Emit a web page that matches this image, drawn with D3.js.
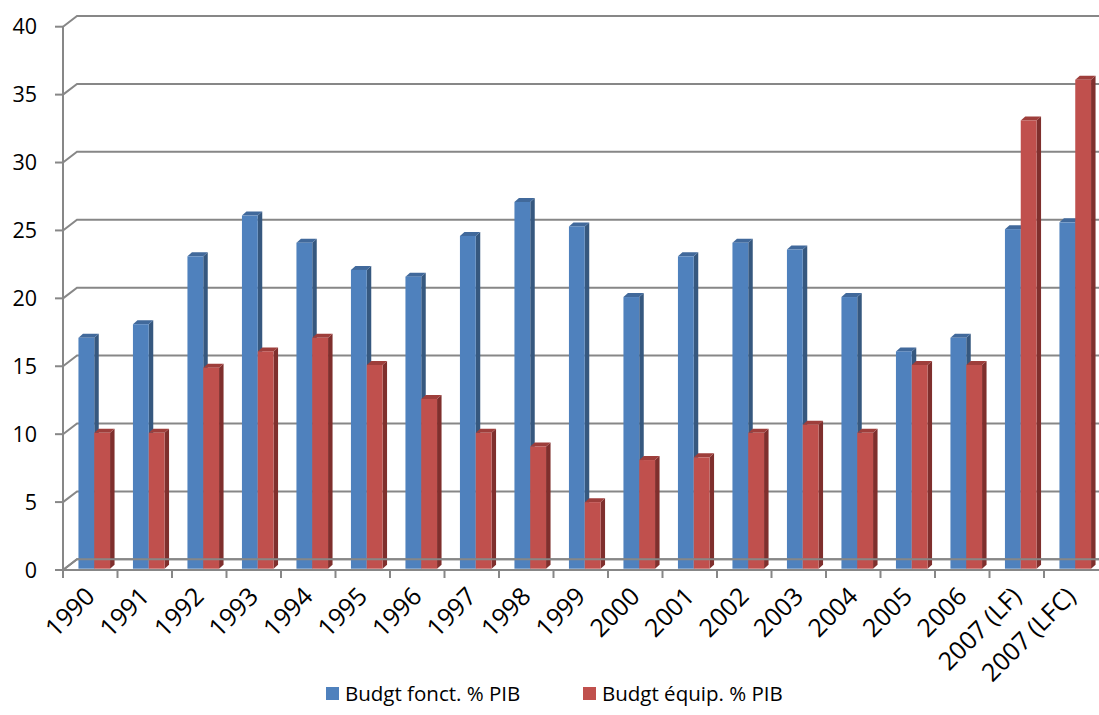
<!DOCTYPE html>
<html>
<head>
<meta charset="utf-8">
<script src="https://cdn.jsdelivr.net/npm/d3@7"></script>
<style>
  body { margin: 0; background: #fff; }
  text { font-family: "Open Sans", sans-serif; fill: #000; }
</style>
</head>
<body>
<svg id="chart"></svg>
<script>
var categories = ["1990","1991","1992","1993","1994","1995","1996","1997","1998","1999",
                  "2000","2001","2002","2003","2004","2005","2006","2007 (LF)","2007 (LFC)"];
var fonct = [17, 18, 23, 26, 24, 22, 21.5, 24.5, 27, 25.2, 20, 23, 24, 23.5, 20, 16, 17, 25, 25.5];
var equip = [10, 10, 14.8, 16, 17, 15, 12.5, 10, 9, 4.9, 8, 8.2, 10, 10.6, 10, 15, 15, 33, 36];
var seriesNames = ["Budgt fonct. % PIB", "Budgt équip. % PIB"];
var yTicks = [0, 5, 10, 15, 20, 25, 30, 35, 40];

var width = 1099, height = 715;
var plotLeft = 63, plotRight = 1098.5, plotBottom = 570, plotTop = 26.7;
var wall = {dx: 14, dy: -10.7};   // depth of the back wall
var depth = {dx: 4.5, dy: -4};    // depth of a bar
var shift = {dx: 4, dy: -1.3};    // bars sit a bit into the floor

var colors = {
  front: ["#4F81BD", "#C0504D"],
  side:  ["#36587F", "#7F2F2D"],
  top:   ["#41699B", "#9E3E3B"]
};

var svg = d3.select("#chart")
  .attr("width", width)
  .attr("height", height);

var y = d3.scaleLinear().domain([0, 40]).range([plotBottom, plotTop]);

var x0 = d3.scaleBand().domain(categories).range([plotLeft, plotRight]).paddingInner(0).paddingOuter(0);
var x1 = d3.scaleBand().domain([0, 1]).range([x0.bandwidth() * 0.21, x0.bandwidth() * 0.79]);

var grey = "#878787";

// gridlines on the back wall, with the little diagonal on the side wall
var grid = svg.append("g");
yTicks.forEach(function(t) {
  grid.append("path")
    .attr("d", "M" + plotLeft + "," + y(t) + "L" + (plotLeft + wall.dx) + "," + (y(t) + wall.dy) + "L" + width + "," + (y(t) + wall.dy))
    .attr("fill", "none")
    .attr("stroke", grey)
    .attr("stroke-width", 2);
});

// y axis
svg.append("line")
  .attr("x1", plotLeft).attr("x2", plotLeft)
  .attr("y1", y(0)).attr("y2", y(40))
  .attr("stroke", grey).attr("stroke-width", 2);

svg.append("g")
  .selectAll("line")
  .data(yTicks)
  .enter()
  .append("line")
  .attr("x1", plotLeft - 8).attr("x2", plotLeft)
  .attr("y1", function(d) { return y(d); })
  .attr("y2", function(d) { return y(d); })
  .attr("stroke", grey).attr("stroke-width", 2);

svg.append("g")
  .selectAll("text")
  .data(yTicks)
  .enter()
  .append("text")
  .attr("x", 37)
  .attr("y", function(d) { return y(d); })
  .attr("dy", "0.36em")
  .attr("text-anchor", "end")
  .style("font-size", "21.5px")
  .text(function(d) { return d; });

// bars
var rows = categories.map(function(c, i) { return {cat: c, vals: [fonct[i], equip[i]]}; });

var groups = svg.append("g")
  .selectAll("g")
  .data(rows)
  .enter()
  .append("g")
  .attr("transform", function(d) { return "translate(" + (x0(d.cat) + shift.dx) + "," + shift.dy + ")"; });

groups.each(function(d) {
  var g = d3.select(this);
  d.vals.forEach(function(v, s) {
    var xa = x1(s), xb = x1(s) + x1.bandwidth();
    var yt = y(v), yb = y(0);
    // side face
    g.append("path")
      .attr("d", "M" + xb + "," + yb + "L" + (xb + depth.dx) + "," + (yb + depth.dy) +
                 "L" + (xb + depth.dx) + "," + (yt + depth.dy) + "L" + xb + "," + yt + "Z")
      .attr("fill", colors.side[s]);
    // top face
    g.append("path")
      .attr("d", "M" + xa + "," + yt + "L" + (xa + depth.dx) + "," + (yt + depth.dy) +
                 "L" + (xb + depth.dx) + "," + (yt + depth.dy) + "L" + xb + "," + yt + "Z")
      .attr("fill", colors.top[s]);
    // front face
    g.append("rect")
      .attr("x", xa)
      .attr("y", yt)
      .attr("width", x1.bandwidth())
      .attr("height", yb - yt)
      .attr("fill", colors.front[s]);
  });
});

// floor edges and x axis
svg.append("path")
  .attr("d", "M" + plotLeft + "," + plotBottom + "L" + (plotLeft + wall.dx) + "," + (plotBottom + wall.dy) + "L" + width + "," + (plotBottom + wall.dy))
  .attr("fill", "none")
  .attr("stroke", grey).attr("stroke-width", 2);

svg.append("line")
  .attr("x1", plotLeft).attr("x2", width)
  .attr("y1", plotBottom).attr("y2", plotBottom)
  .attr("stroke", grey).attr("stroke-width", 2);

svg.append("g")
  .selectAll("line")
  .data(categories)
  .enter()
  .append("line")
  .attr("x1", function(d) { return x0(d); })
  .attr("x2", function(d) { return x0(d); })
  .attr("y1", plotBottom).attr("y2", plotBottom + 8)
  .attr("stroke", grey).attr("stroke-width", 2);

svg.append("g")
  .selectAll("text")
  .data(categories)
  .enter()
  .append("text")
  .attr("text-anchor", "end")
  .attr("transform", function(d) {
    return "translate(" + (x0(d) + x0.bandwidth() / 2 + 6) + "," + 598 + ") rotate(-45)";
  })
  .style("font-size", "25px")
  .text(function(d) { return d; });

// legend
var legendX = [326, 583];
var legend = svg.append("g")
  .selectAll("g")
  .data(seriesNames)
  .enter()
  .append("g")
  .attr("transform", function(d, i) { return "translate(" + legendX[i] + ",687)"; });

legend.append("rect")
  .attr("width", 13).attr("height", 13)
  .attr("fill", function(d, i) { return colors.front[i]; });

legend.append("text")
  .attr("x", 19)
  .attr("y", 14)
  .style("font-size", "20.5px")
  .text(function(d) { return d; });
</script>
</body>
</html>
